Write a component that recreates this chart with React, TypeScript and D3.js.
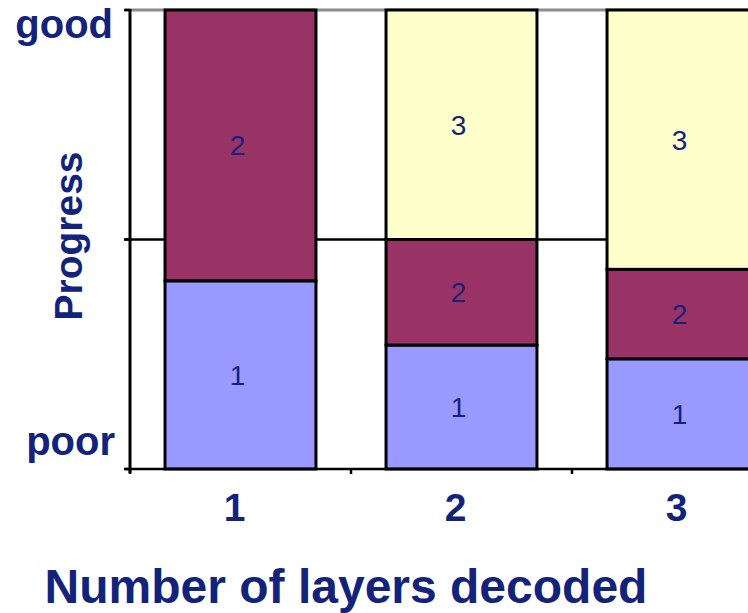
import React from "react";
import * as d3 from "d3";

// Number of decoded layers (categories)
const categories = ["1", "2", "3"];
// Stacked segments per category, bottom to top (fraction of the progress scale)
const layer1 = [0.41, 0.27, 0.24];
const layer2 = [0.59, 0.23, 0.195];
const layer3 = [0, 0.5, 0.565];
const segmentNames = ["1", "2", "3"];
const segmentColors = ["#9999ff", "#993366", "#ffffcc"];
const yTickValues = [0, 0.5, 1];

const W = 748;
const H = 613;
const TEXT = "#13237a";
const FONT = "'Liberation Sans', Arial, sans-serif";

export default function App() {
  const left = 130;
  const top = 10;
  const bottom = 469;
  const step = 221;

  const x = d3
    .scaleBand<string>()
    .domain(categories)
    .range([left, left + step * categories.length])
    .paddingInner(0.317)
    .paddingOuter(0.1585);
  const y = d3.scaleLinear().domain([0, 1]).range([bottom, top]);

  const rows = categories.map((c, i) => ({
    cat: c,
    s0: layer1[i],
    s1: layer2[i],
    s2: layer3[i],
  }));
  const stack = d3.stack<any>().keys(["s0", "s1", "s2"]);
  const series = stack(rows);

  return (
    <svg
      width={W}
      height={H}
      style={{ position: "absolute", left: 0, top: 0, background: "#fff" }}
      fontFamily={FONT}
    >
      <rect x={0} y={0} width={W} height={H} fill="#fff" />
      {/* gridlines */}
      <line x1={left - 5} x2={W} y1={y(1)} y2={y(1)} stroke="#8c8c8c" strokeWidth={3} />
      <line x1={left - 5} x2={W} y1={y(0.5)} y2={y(0.5)} stroke="#000" strokeWidth={2.5} />

      {/* stacked bars */}
      {series.map((s, si) =>
        s.map((d, di) => {
          const v = d[1] - d[0];
          if (v <= 0) return null;
          const bx = x(categories[di])!;
          const bw = x.bandwidth();
          const y0 = y(d[0]);
          const y1 = y(d[1]);
          return (
            <g key={`${si}-${di}`}>
              <rect
                x={bx}
                y={y1}
                width={bw}
                height={y0 - y1}
                fill={segmentColors[si]}
                stroke="#000"
                strokeWidth={3}
              />
              <text
                x={bx + bw / 2 - 3}
                y={(y0 + y1) / 2 + 10}
                textAnchor="middle"
                fontSize={28}
                fill={TEXT}
              >
                {segmentNames[si]}
              </text>
            </g>
          );
        })
      )}

      {/* axes */}
      <line x1={left} x2={left} y1={top - 1} y2={bottom + 4} stroke="#000" strokeWidth={3} />
      <line x1={left - 5} x2={W} y1={bottom} y2={bottom} stroke="#000" strokeWidth={2.5} />
      {yTickValues.map((t) => (
        <line key={t} x1={left - 6} x2={left} y1={y(t)} y2={y(t)} stroke="#000" strokeWidth={2.5} />
      ))}
      {d3.range(categories.length + 1).map((i) => (
        <line
          key={i}
          x1={left + i * step}
          x2={left + i * step}
          y1={bottom}
          y2={bottom + 5}
          stroke="#000"
          strokeWidth={2.5}
        />
      ))}

      {/* category labels */}
      {categories.map((c) => (
        <text
          key={c}
          x={x(c)! + x.bandwidth() / 2 - 6}
          y={521}
          textAnchor="middle"
          fontSize={39}
          fontWeight="bold"
          fill={TEXT}
        >
          {c}
        </text>
      ))}

      {/* y labels */}
      <text x={113} y={38} textAnchor="end" fontSize={40} fontWeight="bold" fill={TEXT}>
        good
      </text>
      <text x={115} y={455} textAnchor="end" fontSize={40} fontWeight="bold" fill={TEXT}>
        poor
      </text>
      <text
        transform={`translate(82, 236) rotate(-90)`}
        textAnchor="middle"
        fontSize={39}
        fontWeight="bold"
        fill={TEXT}
      >
        Progress
      </text>

      <text x={346} y={603} textAnchor="middle" fontSize={48} fontWeight="bold" fill={TEXT}>
        Number of layers decoded
      </text>
    </svg>
  );
}
